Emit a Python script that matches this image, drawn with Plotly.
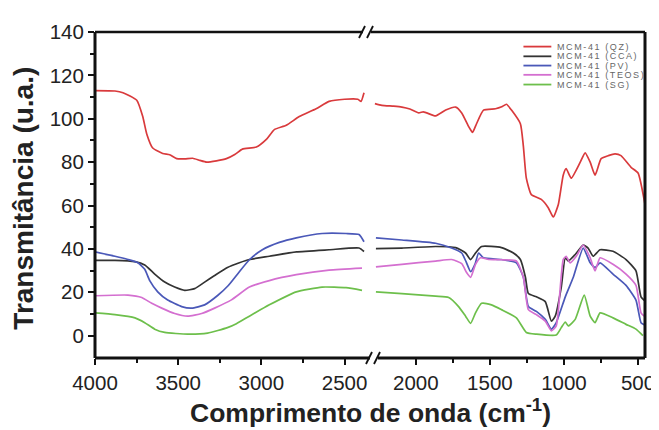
import plotly.graph_objects as go

# ---------------- data (wavenumber in cm-1, transmittance in u.a.) ----------------
series_names = ["MCM-41 (QZ)", "MCM-41 (CCA)", "MCM-41 (PV)", "MCM-41 (TEOS)", "MCM-41 (SG)"]
series_colors = ["#d93a3c", "#333333", "#4a58b8", "#d46fd0", "#6dbf4b"]

qz_wn_left = [4000, 3880, 3832, 3749, 3713, 3689, 3653, 3593, 3551, 3509, 3460, 3413, 3370, 3329, 3270, 3210,
              3160, 3114, 3030, 2970, 2922, 2850, 2772, 2671, 2593, 2500, 2420, 2401, 2383]
qz_t_left = [113, 112.8, 112, 108.5, 101, 93, 86.5, 84, 83.4, 81.6, 81.5, 81.8, 80.8, 80, 80.6, 81.6,
             83.5, 86, 87, 90.5, 95, 97, 101, 104.6, 108, 109, 109, 108, 112]
qz_wn_right = [2276, 2229, 2150, 2094, 2040, 1980, 1950, 1926, 1866, 1798, 1731, 1690, 1643, 1617, 1590, 1543,
               1462, 1420, 1388, 1354, 1294, 1274, 1254, 1220, 1153, 1106, 1072, 1038, 1005, 985, 951, 890,
               857, 823, 790, 749, 700, 655, 615, 547, 500, 453]
qz_t_right = [107, 106.2, 105.8, 105.4, 104.5, 102.7, 103.2, 102.7, 101.3, 104, 105.4, 102.7, 96.4, 93.7, 97.7, 104,
              104.6, 105.5, 106.7, 104, 97.7, 87.4, 72.6, 65, 62.8, 59, 54.7, 60.5, 74, 77, 72.6, 80,
              84.3, 80, 74, 81.6, 83, 83.8, 83, 77.6, 75, 60.5]

cca_wn_left = [4000, 3880, 3760, 3701, 3641, 3581, 3521, 3461, 3401, 3341, 3281, 3204, 3132, 3072, 2952, 2790,
               2593, 2413, 2383]
cca_t_left = [34.7, 34.7, 34.1, 32.6, 28.4, 24.7, 22.4, 20.9, 21.7, 24.7, 27.7, 31.4, 33.6, 35.1, 36.6, 38.6,
              39.6, 40.4, 38.8]
cca_wn_right = [2269, 2094, 1866, 1731, 1664, 1630, 1597, 1556, 1422, 1341, 1294, 1260, 1240, 1186, 1126, 1085,
                1059, 1018, 991, 971, 924, 870, 837, 803, 756, 669, 581, 514, 480, 453]
cca_t_right = [40.1, 40.4, 41.1, 40.6, 38.1, 35.1, 38.1, 41.1, 40.6, 38.1, 35.1, 26.9, 19.4, 17.9, 15.7, 6.7,
               9.0, 22.4, 35.9, 34.4, 37.4, 41.8, 40.4, 36.6, 39.6, 38.9, 35.1, 29.9, 17.9, 16]

pv_wn_left = [4000, 3880, 3802, 3742, 3701, 3671, 3623, 3563, 3479, 3419, 3341, 3263, 3200, 3132, 3072, 2994,
              2892, 2790, 2635, 2491, 2413, 2383]
pv_t_left = [38.6, 36.6, 35.1, 33.6, 30.6, 25.4, 20.2, 16.4, 13.4, 12.7, 14.2, 18.5, 23, 29.5, 35, 39.6,
             43, 45.1, 47.1, 47.1, 46.6, 43.3]
pv_wn_right = [2269, 2094, 1866, 1758, 1690, 1660, 1630, 1600, 1576, 1543, 1422, 1321, 1274, 1240, 1186, 1126,
               1085, 1052, 991, 937, 870, 823, 790, 756, 669, 581, 514, 480, 458]
pv_t_right = [45.1, 44.1, 42.6, 40.4, 38.1, 34, 29.5, 33, 38.1, 35.9, 35.1, 33.6, 26.9, 13.4, 11.2, 7.5,
              3.0, 6.0, 17.9, 26.9, 40.4, 33.6, 31.4, 33.6, 28.4, 23.2, 16.4, 6.0, 5]

teos_wn_left = [4000, 3802, 3719, 3659, 3599, 3521, 3443, 3359, 3281, 3180, 3072, 2952, 2790, 2593, 2395]
teos_t_left = [18.4, 18.7, 17.6, 14.9, 12.7, 10.2, 9.0, 10.2, 12.7, 16.5, 22.4, 25.4, 28.1, 30.2, 31.1]
teos_wn_right = [2269, 2094, 1866, 1758, 1690, 1657, 1630, 1597, 1563, 1509, 1422, 1321, 1274, 1240, 1186, 1126,
                 1085, 1052, 1005, 985, 958, 917, 870, 823, 790, 756, 669, 581, 514, 480, 458]
teos_t_right = [31.7, 32.9, 34.4, 35.1, 33.2, 29.1, 26.9, 32.9, 35.9, 35.1, 35.0, 34.4, 26.9, 12.0, 9.7, 6.7,
                2.2, 4.5, 35.1, 36.6, 33.6, 36.6, 41.8, 35.9, 29.9, 35.9, 32.9, 28.4, 23.2, 10.5, 9]

sg_wn_left = [4000, 3880, 3760, 3701, 3641, 3581, 3443, 3323, 3204, 3150, 3072, 2952, 2790, 2635, 2491, 2395]
sg_t_left = [10.5, 9.7, 8.2, 6.0, 3.0, 1.5, 0.7, 1.2, 3.7, 5.5, 9.0, 14.2, 20.2, 22.4, 22.1, 20.9]
sg_wn_right = [2269, 2094, 1866, 1778, 1711, 1664, 1630, 1597, 1556, 1489, 1422, 1321, 1254, 1186, 1052, 1018,
               991, 971, 924, 863, 823, 790, 756, 669, 581, 514, 467]
sg_t_right = [20.2, 19.4, 18.2, 17.6, 13.4, 9.0, 5.7, 10.5, 14.9, 14.2, 12.0, 8.2, 1.5, 0.7, 0.3, 3.7,
              6.3, 4.5, 7.5, 18.7, 9.0, 6.0, 10.5, 8.2, 5.2, 3.0, 0]

y_ticks = [0, 20, 40, 60, 80, 100, 120, 140]
x_ticks_left = [4000, 3500, 3000, 2500]
x_ticks_right = [2000, 1500, 1000, 500]

all_series = [
    (qz_wn_left, qz_t_left, qz_wn_right, qz_t_right),
    (cca_wn_left, cca_t_left, cca_wn_right, cca_t_right),
    (pv_wn_left, pv_t_left, pv_wn_right, pv_t_right),
    (teos_wn_left, teos_t_left, teos_wn_right, teos_t_right),
    (sg_wn_left, sg_t_left, sg_wn_right, sg_t_right),
]

fig = go.Figure()
for (wl, tl, wr, tr), name, col in zip(all_series, series_names, series_colors):
    fig.add_trace(go.Scatter(x=wl, y=tl, mode="lines", name=name, line=dict(color=col, width=1.7, shape="spline", smoothing=0.5),
                             xaxis="x", yaxis="y", showlegend=False))
    fig.add_trace(go.Scatter(x=wr, y=tr, mode="lines", name=name, line=dict(color=col, width=1.7, shape="spline", smoothing=0.5),
                             xaxis="x2", yaxis="y", showlegend=False))

FONT = "Liberation Sans, Arial, sans-serif"
tick_font = dict(family=FONT, size=20.5, color="#222222")
axis_common = dict(showline=False, showgrid=False, zeroline=False, ticks="outside", ticklen=6, tickwidth=2,
                   tickcolor="#111111", tickfont=tick_font)

fig.update_layout(
    width=659, height=430,
    # the page body adds an 8px offset, so margins are shifted to compensate
    margin=dict(l=87, r=20, t=15, b=80),
    paper_bgcolor="white", plot_bgcolor="white",
    showlegend=False,
    xaxis=dict(domain=[0, 0.5], range=[4000, 2347], anchor="y", tickvals=x_ticks_left,
               minor=dict(tickvals=[3750, 3250, 2750], ticks="outside", ticklen=4, tickwidth=1.5, tickcolor="#111111"),
               **axis_common),
    xaxis2=dict(domain=[0.5, 1], range=[2309, 453], anchor="y", tickvals=x_ticks_right,
                minor=dict(tickvals=[1750, 1250, 750], ticks="outside", ticklen=4, tickwidth=1.5, tickcolor="#111111"),
                **axis_common),
    yaxis=dict(range=[-10.3, 140], anchor="x", tickvals=y_ticks,
               minor=dict(tickvals=[10, 30, 50, 70, 90, 110, 130], ticks="outside", ticklen=4, tickwidth=1.5, tickcolor="#111111"),
               **axis_common),
)

# frame
fig.add_shape(type="line", xref="paper", yref="paper", x0=0, x1=0, y0=0, y1=1, line=dict(color="#111111", width=3))
fig.add_shape(type="line", xref="paper", yref="paper", x0=0, x1=1, y0=0, y1=0, line=dict(color="#111111", width=3))
fig.add_shape(type="line", xref="paper", yref="paper", x0=0, x1=1, y0=1, y1=1, line=dict(color="#111111", width=2.5))
fig.add_shape(type="line", xref="paper", yref="paper", x0=1, x1=1, y0=0, y1=1, line=dict(color="#111111", width=3))

# axis break marks
for ya, dx in ((1, -3), (0, 4)):
    fig.add_shape(type="rect", xref="paper", yref="paper", xsizemode="pixel", ysizemode="pixel",
                  xanchor=0.5, yanchor=ya, x0=dx - 4, x1=dx + 4, y0=-2.5, y1=2.5,
                  line=dict(width=0), fillcolor="white")
    for off in (-5, 3):
        fig.add_shape(type="line", xref="paper", yref="paper", xsizemode="pixel", ysizemode="pixel",
                      xanchor=0.5, yanchor=ya, x0=dx + off - 3, x1=dx + off + 3, y0=-6, y1=6,
                      line=dict(color="#111111", width=1.8))

# manual legend (compact, inside top-right); pixel positions relative to plot area (0,0 = top-left)
leg_y_px = [15, 25, 34.5, 44, 54]
for name, col, py in zip(series_names, series_colors, leg_y_px):
    yp = 1 - py / 335
    fig.add_shape(type="line", xref="paper", yref="paper", x0=430 / 552, x1=458 / 552, y0=yp, y1=yp,
                  line=dict(color=col, width=1.8))
    fig.add_annotation(xref="paper", yref="paper", x=462 / 552, y=yp, xanchor="left", yanchor="middle",
                       showarrow=False, text='<span style="letter-spacing:1.6px">' + name + '</span>',
                       font=dict(family=FONT, size=9, color="#666666"))

# axis titles
fig.add_annotation(xref="paper", yref="paper", x=(371 - 95) / 552, y=(358 - 412) / 335, xanchor="center", yanchor="middle",
                   showarrow=False, text="<b>Comprimento de onda (cm<sup>-1</sup>)</b>",
                   font=dict(family=FONT, size=26.5, color="#222222"))
fig.add_annotation(xref="paper", yref="paper", x=(23 - 95) / 552, y=(358 - 194) / 335, xanchor="center", yanchor="middle",
                   showarrow=False, textangle=-90, text="<b>Transmitância (u.a.)</b>",
                   font=dict(family=FONT, size=28, color="#222222"))

fig.write_html("out.html")
